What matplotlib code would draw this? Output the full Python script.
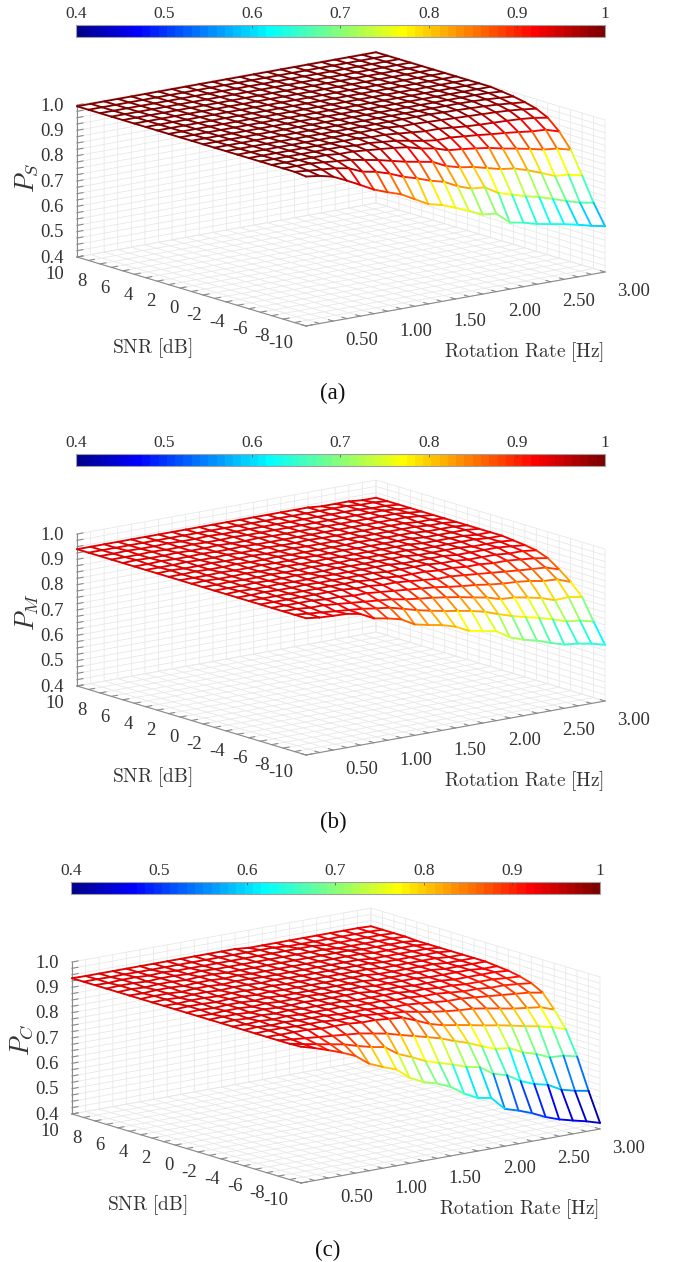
import numpy as np
import matplotlib
matplotlib.use("Agg")
import matplotlib.pyplot as plt
from matplotlib.cm import ScalarMappable
from matplotlib.colors import ListedColormap, Normalize
from mpl_toolkits.mplot3d import proj3d
from mpl_toolkits.mplot3d.art3d import Line3DCollection

plt.rcParams['font.family'] = ['Liberation Serif', 'DejaVu Serif']
plt.rcParams['mathtext.fontset'] = 'cm'

rotation_rates = [0.25, 0.375, 0.5, 0.625, 0.75, 0.875, 1.0, 1.125, 1.25, 1.375, 1.5, 1.625,
                  1.75, 1.875, 2.0, 2.125, 2.25, 2.375, 2.5, 2.625, 2.75, 2.875, 3.0]
snr_db = [-10, -9, -8, -7, -6, -5, -4, -3, -2, -1, 0, 1, 2, 3, 4, 5, 6, 7, 8, 9, 10]

# rows: SNR -10 ... 10, columns: rotation rate 0.25 ... 3.00
p_s = [
 [.99,.983,.97,.945,.918,.89,.87,.852,.823,.794,.781,.76,.738,.714,.708,.663,.653,.638,.628,.618,.606,.592,.581],
 [.995,.99,.985,.98,.97,.947,.937,.92,.898,.882,.863,.849,.822,.803,.798,.766,.75,.734,.721,.704,.686,.67,.66],
 [.995,.995,.995,.99,.985,.98,.97,.96,.947,.934,.924,.914,.888,.873,.865,.851,.837,.83,.813,.793,.771,.767,.754],
 [.995,.995,.995,.995,.995,.99,.99,.985,.98,.975,.968,.953,.944,.927,.922,.915,.907,.895,.885,.874,.862,.856,.842],
 [.995,.995,.995,.995,.995,.995,.995,.99,.99,.985,.98,.97,.96,.953,.954,.949,.944,.938,.933,.927,.92,.917,.90],
 [.995,.995,.995,.995,.995,.995,.995,.995,.995,.99,.99,.985,.98,.975,.975,.97,.965,.962,.96,.958,.955,.95,.941],
 [.995,.995,.995,.995,.995,.995,.995,.995,.995,.995,.995,.995,.99,.99,.988,.986,.984,.982,.98,.978,.975,.97,.963],
 [.995,.995,.995,.995,.995,.995,.995,.995,.995,.995,.995,.995,.995,.995,.995,.995,.993,.992,.99,.988,.985,.98,.975],
 [.995,.995,.995,.995,.995,.995,.995,.995,.995,.995,.995,.995,.995,.995,.995,.995,.995,.995,.995,.994,.992,.988,.984],
 [.995,.995,.995,.995,.995,.995,.995,.995,.995,.995,.995,.995,.995,.995,.995,.995,.995,.995,.995,.995,.995,.994,.99],
 [.995,.995,.995,.995,.995,.995,.995,.995,.995,.995,.995,.995,.995,.995,.995,.995,.995,.995,.995,.995,.995,.995,.995],
 [.995,.995,.995,.995,.995,.995,.995,.995,.995,.995,.995,.995,.995,.995,.995,.995,.995,.995,.995,.995,.995,.995,.995],
 [.995,.995,.995,.995,.995,.995,.995,.995,.995,.995,.995,.995,.995,.995,.995,.995,.995,.995,.995,.995,.995,.995,.995],
 [.995,.995,.995,.995,.995,.995,.995,.995,.995,.995,.995,.995,.995,.995,.995,.995,.995,.995,.995,.995,.995,.995,.995],
 [.995,.995,.995,.995,.995,.995,.995,.995,.995,.995,.995,.995,.995,.995,.995,.995,.995,.995,.995,.995,.995,.995,.995],
 [.995,.995,.995,.995,.995,.995,.995,.995,.995,.995,.995,.995,.995,.995,.995,.995,.995,.995,.995,.995,.995,.995,.995],
 [.995,.995,.995,.995,.995,.995,.995,.995,.995,.995,.995,.995,.995,.995,.995,.995,.995,.995,.995,.995,.995,.995,.995],
 [.995,.995,.995,.995,.995,.995,.995,.995,.995,.995,.995,.995,.995,.995,.995,.995,.995,.995,.995,.995,.995,.995,.995],
 [.995,.995,.995,.995,.995,.995,.995,.995,.995,.995,.995,.995,.995,.995,.995,.995,.995,.995,.995,.995,.995,.995,.995],
 [.995,.995,.995,.995,.995,.995,.995,.995,.995,.995,.995,.995,.995,.995,.995,.995,.995,.995,.995,.995,.995,.995,.995],
 [.995,.995,.995,.995,.995,.995,.995,.995,.995,.995,.995,.995,.995,.995,.995,.995,.995,.995,.995,.995,.995,.995,.995],
]
p_m = [
 [.94,.933,.93,.928,.918,.891,.881,.868,.838,.826,.816,.80,.774,.763,.753,.719,.70,.687,.668,.652,.646,.636,.622],
 [.94,.935,.93,.925,.92,.915,.907,.90,.886,.871,.859,.848,.839,.829,.816,.797,.78,.766,.753,.738,.72,.714,.70],
 [.94,.94,.935,.935,.93,.925,.92,.915,.91,.90,.893,.887,.879,.87,.859,.849,.833,.83,.82,.808,.79,.793,.783],
 [.94,.94,.94,.94,.935,.935,.93,.93,.925,.92,.915,.91,.905,.897,.89,.885,.877,.871,.868,.862,.852,.849,.829],
 [.94,.94,.94,.94,.94,.94,.94,.935,.935,.93,.93,.925,.92,.915,.915,.91,.905,.90,.895,.89,.886,.882,.865],
 [.94,.94,.94,.94,.94,.94,.94,.94,.94,.935,.935,.93,.93,.93,.925,.925,.92,.92,.915,.915,.91,.905,.896],
 [.94,.94,.942,.94,.94,.942,.94,.94,.94,.94,.94,.935,.935,.935,.935,.93,.93,.925,.925,.925,.92,.92,.913],
 [.94,.942,.94,.94,.942,.94,.94,.942,.94,.94,.94,.94,.94,.935,.935,.935,.935,.93,.93,.93,.93,.925,.92],
 [.94,.94,.94,.942,.94,.94,.942,.94,.94,.942,.94,.94,.94,.94,.94,.935,.935,.935,.935,.93,.93,.93,.925],
 [.94,.94,.942,.94,.94,.942,.94,.94,.942,.94,.94,.942,.94,.94,.94,.94,.935,.935,.935,.935,.935,.93,.93],
 [.94,.942,.94,.94,.942,.94,.94,.942,.94,.94,.942,.94,.94,.94,.94,.94,.94,.935,.935,.935,.935,.93,.93],
 [.94,.94,.94,.942,.94,.94,.942,.94,.94,.942,.94,.94,.942,.94,.94,.94,.94,.94,.935,.935,.935,.935,.93],
 [.94,.94,.942,.94,.94,.942,.94,.94,.942,.94,.94,.94,.94,.94,.942,.94,.94,.94,.94,.935,.935,.935,.93],
 [.94,.942,.94,.94,.942,.94,.94,.942,.94,.94,.942,.94,.94,.94,.94,.94,.94,.94,.94,.94,.935,.935,.93],
 [.94,.94,.94,.942,.94,.94,.942,.94,.94,.942,.94,.94,.942,.94,.94,.94,.94,.94,.94,.94,.935,.935,.93],
 [.94,.94,.942,.94,.94,.942,.94,.94,.942,.94,.94,.94,.94,.94,.94,.94,.94,.94,.94,.94,.94,.935,.93],
 [.94,.942,.94,.94,.942,.94,.94,.942,.94,.94,.942,.94,.94,.94,.94,.94,.94,.94,.94,.94,.94,.935,.93],
 [.94,.94,.94,.942,.94,.94,.942,.94,.94,.942,.94,.94,.94,.94,.94,.94,.94,.94,.94,.94,.94,.935,.93],
 [.94,.94,.942,.94,.94,.942,.94,.94,.942,.94,.94,.94,.94,.94,.94,.94,.94,.94,.94,.94,.935,.935,.93],
 [.94,.94,.94,.94,.94,.94,.94,.94,.94,.94,.94,.94,.94,.94,.94,.94,.94,.94,.94,.94,.935,.935,.93],
 [.94,.94,.94,.94,.94,.94,.94,.94,.94,.94,.94,.94,.94,.94,.94,.94,.94,.94,.935,.935,.935,.93,.93],
]
p_c = [
 [.938,.923,.905,.886,.863,.823,.80,.781,.738,.711,.696,.673,.637,.61,.60,.547,.531,.511,.486,.467,.453,.44,.424],
 [.936,.925,.915,.905,.895,.879,.865,.855,.818,.796,.771,.754,.738,.719,.708,.672,.657,.624,.603,.59,.561,.547,.537],
 [.936,.93,.925,.92,.915,.91,.905,.895,.885,.87,.856,.842,.827,.807,.79,.767,.747,.741,.714,.698,.675,.672,.659],
 [.936,.935,.935,.935,.93,.93,.93,.925,.925,.92,.915,.894,.871,.856,.847,.837,.826,.817,.806,.794,.784,.771,.754],
 [.936,.938,.938,.935,.935,.935,.93,.93,.93,.925,.92,.915,.905,.895,.888,.882,.879,.87,.86,.85,.843,.836,.817],
 [.936,.938,.935,.938,.935,.935,.935,.93,.93,.93,.925,.92,.92,.915,.91,.905,.905,.90,.895,.89,.885,.88,.87],
 [.936,.935,.938,.935,.938,.935,.935,.935,.935,.93,.93,.93,.925,.925,.92,.92,.915,.91,.91,.905,.905,.90,.894],
 [.936,.938,.935,.938,.935,.938,.935,.935,.935,.935,.93,.93,.93,.93,.925,.925,.92,.92,.915,.915,.915,.91,.907],
 [.936,.938,.938,.935,.938,.935,.935,.938,.935,.935,.935,.935,.93,.93,.93,.925,.925,.925,.92,.92,.92,.92,.916],
 [.936,.935,.938,.938,.935,.938,.935,.935,.938,.935,.935,.935,.935,.93,.93,.93,.93,.925,.925,.925,.925,.92,.92],
 [.936,.938,.935,.938,.938,.935,.938,.935,.935,.935,.935,.935,.935,.935,.93,.93,.93,.93,.93,.925,.925,.925,.925],
 [.936,.938,.938,.935,.938,.938,.935,.938,.935,.935,.935,.935,.935,.935,.935,.93,.93,.93,.93,.93,.925,.925,.925],
 [.936,.935,.938,.938,.935,.938,.938,.935,.938,.935,.935,.935,.935,.935,.935,.935,.93,.93,.93,.93,.93,.925,.925],
 [.936,.938,.935,.938,.938,.935,.938,.938,.935,.938,.935,.935,.935,.935,.935,.935,.935,.93,.93,.93,.93,.93,.925],
 [.936,.938,.938,.935,.938,.938,.935,.938,.938,.935,.935,.935,.935,.935,.935,.935,.935,.93,.93,.93,.93,.93,.925],
 [.936,.935,.938,.938,.935,.938,.938,.935,.938,.935,.935,.935,.935,.935,.935,.935,.935,.935,.93,.93,.93,.93,.925],
 [.936,.938,.935,.938,.938,.935,.938,.938,.935,.935,.935,.935,.935,.935,.935,.935,.935,.935,.93,.93,.93,.93,.925],
 [.936,.938,.938,.935,.938,.938,.935,.938,.935,.935,.935,.935,.935,.935,.935,.935,.935,.93,.93,.93,.93,.93,.928],
 [.936,.935,.938,.938,.935,.938,.935,.935,.935,.935,.935,.935,.935,.935,.935,.935,.935,.93,.93,.93,.93,.93,.928],
 [.936,.936,.935,.936,.935,.935,.935,.935,.935,.935,.935,.935,.935,.935,.935,.93,.93,.93,.93,.93,.93,.93,.928],
 [.936,.935,.935,.935,.935,.935,.935,.935,.935,.935,.935,.935,.935,.93,.93,.93,.93,.93,.93,.93,.93,.93,.928],
]

z_limits = (0.4, 1.0)
x_ticks = rotation_rates
x_ticklabels = ['', '', '0.50', '', '', '', '1.00', '', '', '', '1.50', '', '', '', '2.00', '', '', '',
                '2.50', '', '', '', '3.00']
y_ticks = snr_db
y_ticklabels = ['-10', '', '-8', '', '-6', '', '-4', '', '-2', '', '0', '', '2', '', '4', '', '6', '', '8', '', '10']
z_ticks = [0.4, 0.425, 0.45, 0.475, 0.5, 0.525, 0.55, 0.575, 0.6, 0.625, 0.65, 0.675, 0.7, 0.725, 0.75,
           0.775, 0.8, 0.825, 0.85, 0.875, 0.9, 0.925, 0.95, 0.975, 1.0]
z_ticklabels = ['0.4', '', '', '', '0.5', '', '', '', '0.6', '', '', '', '0.7', '', '', '', '0.8', '', '', '',
                '0.9', '', '', '', '1.0']
cbar_ticks = [0.4, 0.5, 0.6, 0.7, 0.8, 0.9, 1.0]
cbar_ticklabels = ['0.4', '0.5', '0.6', '0.7', '0.8', '0.9', '1']

W, H = 674, 1262
GRID = '#e8e8e8'
AXIS = '#8a8a8a'
TEXT = '#333333'


def matlab_jet(m=64):
    n = int(np.ceil(m / 4))
    u = np.r_[np.arange(1, n + 1) / n, np.ones(n - 1), np.arange(n, 0, -1) / n]
    g = int(np.ceil(n / 2)) - int(m % 4 == 1) + np.arange(1, len(u) + 1)
    r = g + n
    b = g - n
    rgb = np.zeros((m, 3))
    rgb[r[r <= m] - 1, 0] = u[:np.sum(r <= m)]
    rgb[g[g <= m] - 1, 1] = u[:np.sum(g <= m)]
    rgb[b[b >= 1] - 1, 2] = u[-np.sum(b >= 1):]
    return ListedColormap(rgb, name='jet64')


cmap = matlab_jet(64)
norm = Normalize(*z_limits)
fig = plt.figure(figsize=(W / 100, H / 100), dpi=100, facecolor='white')


def fx(px):
    return px / W


def fy(py):
    return 1 - py / H


def project(ax, x, y, z):
    xs, ys, _ = proj3d.proj_transform(x, y, z, ax.get_proj())
    return ax.transData.transform((xs, ys))


def draw_panel(values, symbol, tag, dx, dy, sym_y):
    X, Y = np.meshgrid(rotation_rates, snr_db)
    Z = np.array(values, dtype=float)

    # colour bar
    cax = fig.add_axes([fx(76 + dx), fy(37 + dy), fx(529), 12 / H])
    cb = fig.colorbar(ScalarMappable(norm=norm, cmap=cmap), cax=cax, orientation='horizontal',
                      ticklocation='top')
    cb.set_ticks(cbar_ticks, labels=cbar_ticklabels)
    cb.ax.tick_params(direction='in', length=2.5, width=0.5, color='#444444', labelsize=12.5,
                      labelcolor=TEXT, pad=2)
    cb.outline.set_edgecolor('#a0a0a0')
    cb.outline.set_linewidth(0.8)

    # 3-D axes
    size = 620 / W
    ax = fig.add_axes([0.05, fy(500), size, 620 / H], projection='3d', proj_type='ortho',
                      computed_zorder=False)
    ax.set_facecolor('none')
    ax.view_init(elev=13.49, azim=-127.75)
    ax.set_xlim(rotation_rates[0], rotation_rates[-1], view_margin=0)
    ax.set_ylim(snr_db[0], snr_db[-1], view_margin=0)
    ax.set_zlim(*z_limits, view_margin=0)
    aspect = np.array([378.0, 374.0, 156.0])
    ax.set_box_aspect(aspect, zoom=1.0)
    ax.apply_aspect()

    xa, xb = rotation_rates[0], rotation_rates[-1]
    ya, yb = snr_db[0], snr_db[-1]
    za, zb = z_limits
    near = project(ax, xa, ya, za)
    lx = np.linalg.norm(project(ax, xb, ya, za) - near)
    ly = np.linalg.norm(project(ax, xa, yb, za) - near)
    lz = np.linalg.norm(project(ax, xa, ya, zb) - near)
    tx, ty, tz = np.hypot(299, 54), np.hypot(229, 69), 152.0
    new_aspect = aspect * np.array([tx / lx, ty / ly, tz / lz])
    ax.set_box_aspect(new_aspect, zoom=np.linalg.norm(new_aspect) / np.linalg.norm(aspect))
    ax.apply_aspect()
    near = project(ax, xa, ya, za)
    target = np.array([306 + dx, H - (326 + dy)])
    pos = ax.get_position()
    shift = (target - near) / np.array([W, H])
    ax.set_position([pos.x0 + shift[0], pos.y0 + shift[1], pos.width, pos.height])
    ax.apply_aspect()

    # white mesh faces hide the walls behind
    ax.plot_surface(X, Y, Z, rstride=1, cstride=1, color='white', shade=False, linewidth=0,
                    antialiased=False, zorder=2)

    # mesh edges coloured by their first vertex
    segments, colours = [], []
    ny, nx = Z.shape
    for j in range(ny - 1, -1, -1):
        for i in range(nx - 1, -1, -1):
            start = (X[j, i], Y[j, i], Z[j, i])
            if i < nx - 1:
                segments.append([start, (X[j, i + 1], Y[j, i + 1], Z[j, i + 1])])
                colours.append(cmap(norm(Z[j, i])))
            if j < ny - 1:
                segments.append([start, (X[j + 1, i], Y[j + 1, i], Z[j + 1, i])])
                colours.append(cmap(norm(Z[j, i])))
    ax.add_collection3d(Line3DCollection(segments, colors=colours, linewidths=1.35, zorder=3,
                                         capstyle='round'))

    ax.set_xticks(x_ticks, labels=x_ticklabels)
    ax.set_yticks(y_ticks, labels=y_ticklabels)
    ax.set_zticks(z_ticks, labels=z_ticklabels)
    ax.xaxis.set_rotate_label(False)
    ax.yaxis.set_rotate_label(False)
    ax.zaxis.set_rotate_label(False)
    for axis, pad in ((ax.xaxis, 4), (ax.yaxis, 2), (ax.zaxis, 3)):
        axis.set_pane_color((1, 1, 1, 0))
        axis.pane.set_edgecolor('none')
        axis.line.set_color(AXIS)
        axis.line.set_linewidth(0.8)
        axis._axinfo['grid'].update(color=GRID, linewidth=0.6)
        axis._axinfo['tick'].update(inward_factor=0.0, outward_factor=0.25)
        axis.set_tick_params(color=AXIS, width=0.6, labelcolor=TEXT, labelsize=13.5, pad=pad)
    ax.zaxis.set_ticks_position('upper')
    plt.setp(ax.get_xticklabels(), ha='left')
    plt.setp(ax.get_yticklabels(), ha='right')
    plt.setp(ax.get_zticklabels(), ha='center', va='center_baseline')

    # labels
    fig.text(fx(152 + dx), fy(348 + dy), r'$\mathrm{SNR\ [dB]}$', ha='center', va='center',
             fontsize=14, color=TEXT)
    fig.text(fx(524 + dx), fy(352 + dy), r'$\mathrm{Rotation\ Rate\ [Hz]}$', ha='center', va='center',
             fontsize=14, color=TEXT)
    fig.text(fx(27 + dx), fy(sym_y), symbol, rotation=90, ha='center', va='center', fontsize=19,
             color=TEXT)
    fig.text(fx(333 + dx), fy(393 + dy), tag, ha='center', va='center', fontsize=16.5, color='#111111')


draw_panel(p_s, r'$P_S$', '(a)', 0, 0, 178)
draw_panel(p_m, r'$P_M$', '(b)', 0, 429, 612)
draw_panel(p_c, r'$P_C$', '(c)', -5, 857, 1040)

fig.savefig('out.png', dpi=100)
